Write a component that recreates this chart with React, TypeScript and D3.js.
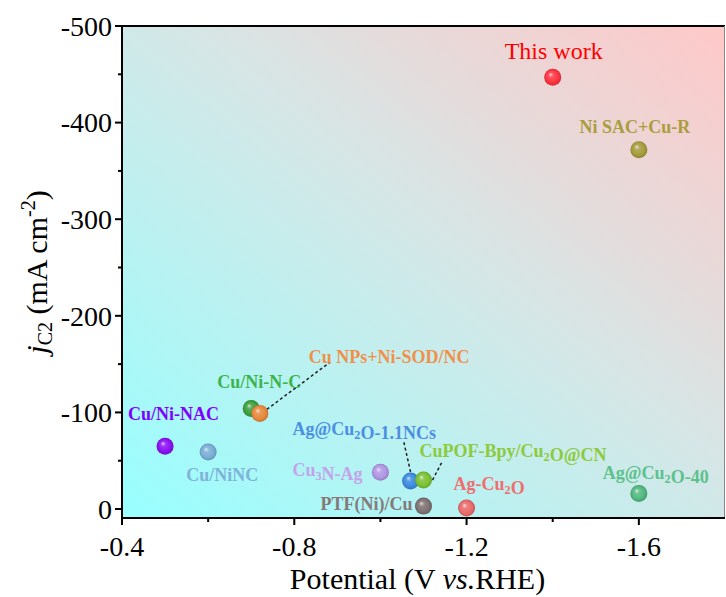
import React from 'react';
import * as d3 from 'd3';

// ---- data ----
const names = [
  'This work', 'Ni SAC+Cu-R', 'Cu/Ni-N-C', 'Cu NPs+Ni-SOD/NC', 'Cu/Ni-NAC', 'Cu/NiNC',
  'Ag@Cu_2O-1.1NCs', 'Cu_3N-Ag', 'CuPOF-Bpy/Cu_2O@CN', 'PTF(Ni)/Cu', 'Ag-Cu_2O', 'Ag@Cu_2O-40',
];
const potentials = [-1.4, -1.6, -0.7, -0.72, -0.5, -0.6, -1.07, -1.0, -1.1, -1.1, -1.2, -1.6];
const currents = [-447, -372, -104, -99, -65, -59, -29, -38, -30, -3, -1, -16];
const xTicks = [-0.4, -0.8, -1.2, -1.6];
const xMinor = [-0.6, -1.0, -1.4];
const yTicks = [0, -100, -200, -300, -400, -500];
const yMinor = [-50, -150, -250, -350, -450];

// ---- styles ----
const labelColors = ['#ff0000', '#aa9d3e', '#3cb44b', '#f0914a', '#8000ff', '#80b2da',
  '#4a8fe2', '#c4a3ea', '#8ccb3c', '#857a78', '#ee6f6f', '#5cc18c'];
const ballColors = ['#ff3340', '#a59c3c', '#3a9f3c', '#e8893d', '#8a0ff2', '#7aaed6',
  '#3a8be0', '#b096e4', '#7bc134', '#7d7271', '#e86a6a', '#52b880'];
// label placement: [dx, dy, anchor]
const labelPos: [number, number, string][] = [
  [1, -18, 'middle'], [-4, -17, 'middle'], [-34, -21, 'start'], [49, -50, 'start'],
  [-37, -26, 'start'], [-22, 29, 'start'], [-118, -46, 'start'], [-88, 4, 'start'],
  [-4, -23, 'start'], [-11, 4, 'end'], [-13, -18, 'start'], [-36, -15, 'start'],
];
// leader lines (index, x1, y1, x2, y2 relative to point)
const leaders: [number, number, number, number, number][] = [
  [3, 7, -4, 70, -51],
  [6, 0, -9, -7, -40],
  [8, 9, 0, 19, -19],
];

const W = 726, H = 597;
const M = { left: 122, right: 1, top: 26, bottom: 79 };
const FONT = '"Liberation Serif", "Times New Roman", serif';

function Label({ text, fs }: { text: string; fs: number }) {
  const parts = text.split(/_(\d)/);
  const out: any[] = [];
  for (let i = 0; i < parts.length; i++) {
    if (i % 2 === 1) {
      out.push(<tspan key={i} dy={4} fontSize={fs * 0.68}>{parts[i]}</tspan>);
      out.push(<tspan key={i + 'b'} dy={-4}>{''}</tspan>);
    } else if (parts[i]) {
      out.push(<tspan key={i}>{parts[i]}</tspan>);
    }
  }
  return <>{out}</>;
}

export default function App() {
  const x = d3.scaleLinear().domain([-0.4, -1.8]).range([M.left, W - M.right]);
  const y = d3.scaleLinear().domain([9.3, -500]).range([H - M.bottom, M.top]);
  const x0 = M.left, x1 = W - M.right, y0 = H - M.bottom, y1 = M.top;

  return (
    <svg width={W} height={H} style={{ position: 'absolute', left: 0, top: 0, background: '#fff' }}
      fontFamily={FONT}>
      <defs>
        <linearGradient id="bg" x1="0" y1="1" x2="1" y2="0">
          <stop offset="0" stopColor="#98ffff" />
          <stop offset="0.55" stopColor="#d6e6e6" />
          <stop offset="1" stopColor="#ffc8c8" />
        </linearGradient>
        {ballColors.map((c, i) => (
          <radialGradient key={i} id={'ball' + i} cx="0.5" cy="0.5" r="0.5" fx="0.36" fy="0.32">
            <stop offset="0" stopColor={d3.interpolateRgb(c, '#ffffff')(0.75)} />
            <stop offset="0.3" stopColor={d3.interpolateRgb(c, '#ffffff')(0.15)} />
            <stop offset="0.75" stopColor={c} />
            <stop offset="1" stopColor={d3.color(c)!.darker(0.5).toString()} />
          </radialGradient>
        ))}
      </defs>
      <rect x={x0} y={y1} width={x1 - x0} height={y0 - y1} fill="url(#bg)" />
      {/* frame */}
      <line x1={x0} x2={x1} y1={y1} y2={y1} stroke="#000" strokeWidth={2} />
      <line x1={x1 - 0.5} x2={x1 - 0.5} y1={y1} y2={y0} stroke="#888" strokeWidth={1} />
      <line x1={x0} x2={x1} y1={y0} y2={y0} stroke="#000" strokeWidth={2} />
      <line x1={x0} x2={x0} y1={y1 - 1} y2={y0 + 1} stroke="#000" strokeWidth={2} />
      {/* y ticks */}
      {yTicks.map(t => (
        <g key={t}>
          <line x1={x0 - 7} x2={x0} y1={y(t)} y2={y(t)} stroke="#000" strokeWidth={2} />
          <text x={x0 - 10} y={y(t)} dy="0.35em" textAnchor="end" fontSize={28}>{t === 0 ? '0' : String(t)}</text>
        </g>
      ))}
      {yMinor.map(t => (
        <line key={t} x1={x0 - 4} x2={x0} y1={y(t)} y2={y(t)} stroke="#000" strokeWidth={2} />
      ))}
      {/* x ticks */}
      {xTicks.map(t => (
        <g key={t}>
          <line x1={x(t)} x2={x(t)} y1={y0} y2={y0 + 7} stroke="#000" strokeWidth={2} />
          <text x={x(t)} y={y0 + 38} textAnchor="middle" fontSize={28}>{t.toFixed(1)}</text>
        </g>
      ))}
      {xMinor.map(t => (
        <line key={t} x1={x(t)} x2={x(t)} y1={y0} y2={y0 + 4} stroke="#000" strokeWidth={2} />
      ))}
      {/* axis titles */}
      <text x={(x0 + x1) / 2 - 6} y={589} textAnchor="middle" fontSize={30}>
        Potential (V <tspan fontStyle="italic">vs.</tspan>RHE)
      </text>
      <text transform={`translate(47,${(y0 + y1) / 2}) rotate(-90)`} textAnchor="middle" fontSize={30}>
        <tspan fontStyle="italic">j</tspan>
        <tspan dy={5} fontSize={20}>C2</tspan>
        <tspan dy={-5}> (mA cm</tspan>
        <tspan dy={-12} fontSize={20}>-2</tspan>
        <tspan dy={12}>)</tspan>
      </text>
      {/* leader lines */}
      {leaders.map(([i, ax, ay, bx, by]) => (
        <line key={i} x1={x(potentials[i]) + ax} y1={y(currents[i]) + ay}
          x2={x(potentials[i]) + bx} y2={y(currents[i]) + by}
          stroke="#222" strokeWidth={1.5} strokeDasharray="3,2.5" />
      ))}
      {/* points */}
      {names.map((n, i) => (
        <circle key={n} cx={x(potentials[i])} cy={y(currents[i])} r={8.5} fill={`url(#ball${i})`} />
      ))}
      {/* labels */}
      {names.map((n, i) => {
        const [dx, dy, anchor] = labelPos[i];
        const first = i === 0;
        return (
          <text key={n} x={x(potentials[i]) + dx} y={y(currents[i]) + dy} textAnchor={anchor}
            fontSize={first ? 24 : 18} fontWeight={first ? 'normal' : 'bold'} fill={labelColors[i]}>
            <Label text={n} fs={first ? 24 : 18} />
          </text>
        );
      })}
    </svg>
  );
}
